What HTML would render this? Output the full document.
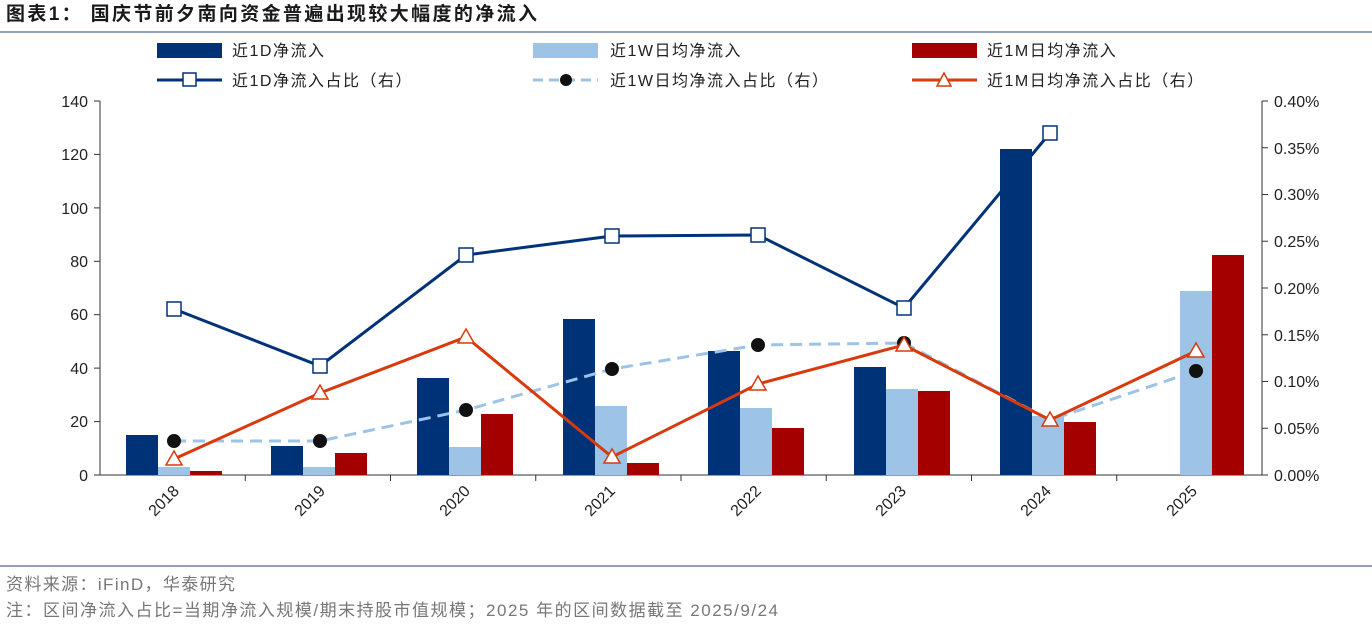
<!DOCTYPE html>
<html><head><meta charset="utf-8"><style>
body{margin:0;background:#fff;width:1372px;height:630px;overflow:hidden;font-family:"Liberation Sans","Noto Sans CJK SC",sans-serif}
</style></head><body>
<svg width="1372" height="630" xmlns="http://www.w3.org/2000/svg" font-family="Liberation Sans, Noto Sans CJK SC, sans-serif">
<text x="6" y="20" font-size="19" font-weight="bold" fill="#1a1a1a" textLength="531" lengthAdjust="spacing">图表1：  国庆节前夕南向资金普遍出现较大幅度的净流入</text>
<line x1="0" y1="32" x2="1372" y2="32" stroke="#8fa3bd" stroke-width="2"/>
<g font-size="16" fill="#222" letter-spacing="1.5">
<rect x="157" y="43" width="65" height="15" fill="#003278"/><text x="232" y="56">近1D净流入</text>
<rect x="533" y="43" width="65" height="15" fill="#9dc3e6"/><text x="610" y="56">近1W日均净流入</text>
<rect x="912" y="43" width="65" height="15" fill="#a50000"/><text x="987" y="56">近1M日均净流入</text>
<line x1="157" y1="80" x2="222" y2="80" stroke="#003278" stroke-width="3"/><rect x="183" y="73" width="13" height="13" fill="#fff" stroke="#003278" stroke-width="1.5"/><text x="232" y="86">近1D净流入占比（右）</text>
<line x1="533" y1="80" x2="598" y2="80" stroke="#9dc3e6" stroke-width="3" stroke-dasharray="10,6"/><circle cx="566" cy="80" r="6" fill="#111"/><text x="610" y="86">近1W日均净流入占比（右）</text>
<line x1="912" y1="80" x2="977" y2="80" stroke="#d83a0c" stroke-width="3"/><polygon points="944,73 951,86 937,86" fill="#fff" stroke="#d83a0c" stroke-width="1.5"/><text x="987" y="86">近1M日均净流入占比（右）</text>
</g>
<g stroke="#333" stroke-width="1">
<line x1="100" y1="101" x2="100" y2="475"/><line x1="1262" y1="101" x2="1262" y2="475"/>
<line x1="100" y1="475" x2="1262" y2="475"/>
<line x1="94" y1="101" x2="100" y2="101"/><line x1="94" y1="154.4" x2="100" y2="154.4"/><line x1="94" y1="207.9" x2="100" y2="207.9"/><line x1="94" y1="261.3" x2="100" y2="261.3"/><line x1="94" y1="314.7" x2="100" y2="314.7"/><line x1="94" y1="368.1" x2="100" y2="368.1"/><line x1="94" y1="421.6" x2="100" y2="421.6"/><line x1="94" y1="475" x2="100" y2="475"/>
<line x1="1262" y1="101" x2="1268" y2="101"/><line x1="1262" y1="147.75" x2="1268" y2="147.75"/><line x1="1262" y1="194.5" x2="1268" y2="194.5"/><line x1="1262" y1="241.25" x2="1268" y2="241.25"/><line x1="1262" y1="288" x2="1268" y2="288"/><line x1="1262" y1="334.75" x2="1268" y2="334.75"/><line x1="1262" y1="381.5" x2="1268" y2="381.5"/><line x1="1262" y1="428.25" x2="1268" y2="428.25"/><line x1="1262" y1="475" x2="1268" y2="475"/>
<line x1="245.25" y1="475" x2="245.25" y2="481"/><line x1="390.5" y1="475" x2="390.5" y2="481"/><line x1="535.75" y1="475" x2="535.75" y2="481"/><line x1="681" y1="475" x2="681" y2="481"/><line x1="826.25" y1="475" x2="826.25" y2="481"/><line x1="971.5" y1="475" x2="971.5" y2="481"/><line x1="1116.75" y1="475" x2="1116.75" y2="481"/>
</g>
<g font-size="16" fill="#222" text-anchor="end">
<text x="88" y="107">140</text><text x="88" y="160">120</text><text x="88" y="214">100</text><text x="88" y="267">80</text><text x="88" y="320">60</text><text x="88" y="374">40</text><text x="88" y="427">20</text><text x="88" y="481">0</text>
</g>
<g font-size="16" fill="#222">
<text x="1274" y="107">0.40%</text><text x="1274" y="154">0.35%</text><text x="1274" y="200">0.30%</text><text x="1274" y="247">0.25%</text><text x="1274" y="294">0.20%</text><text x="1274" y="341">0.15%</text><text x="1274" y="387">0.10%</text><text x="1274" y="434">0.05%</text><text x="1274" y="481">0.00%</text>
</g>
<g font-size="16" fill="#222" text-anchor="end">
<text transform="translate(180,492) rotate(-45)">2018</text><text transform="translate(326,492) rotate(-45)">2019</text><text transform="translate(471,492) rotate(-45)">2020</text><text transform="translate(616,492) rotate(-45)">2021</text><text transform="translate(762,492) rotate(-45)">2022</text><text transform="translate(907,492) rotate(-45)">2023</text><text transform="translate(1052,492) rotate(-45)">2024</text><text transform="translate(1198,492) rotate(-45)">2025</text>
</g>
<g fill="#003278">
<rect x="126" y="435" width="32" height="40"/><rect x="271" y="446" width="32" height="29"/><rect x="417" y="378" width="32" height="97"/><rect x="563" y="319" width="32" height="156"/><rect x="708" y="351" width="32" height="124"/><rect x="854" y="367" width="32" height="108"/><rect x="1000" y="149" width="32" height="326"/>
</g>
<g fill="#9dc3e6">
<rect x="158" y="467" width="32" height="8"/><rect x="303" y="467" width="32" height="8"/><rect x="449" y="447" width="32" height="28"/><rect x="595" y="406" width="32" height="69"/><rect x="740" y="408" width="32" height="67"/><rect x="886" y="389" width="32" height="86"/><rect x="1032" y="416" width="32" height="59"/><rect x="1180" y="291" width="32" height="184"/>
</g>
<g fill="#a50000">
<rect x="190" y="471" width="32" height="4"/><rect x="335" y="453" width="32" height="22"/><rect x="481" y="414" width="32" height="61"/><rect x="627" y="463" width="32" height="12"/><rect x="772" y="428" width="32" height="47"/><rect x="918" y="391" width="32" height="84"/><rect x="1064" y="422" width="32" height="53"/><rect x="1212" y="255" width="32" height="220"/>
</g>
<polyline points="174,441 320,441 466,410 612,369 758,345 904,343 1050,420 1196,371" fill="none" stroke="#9dc3e6" stroke-width="3" stroke-dasharray="12,7"/>
<g fill="#111"><circle cx="174" cy="441" r="7"/><circle cx="320" cy="441" r="7"/><circle cx="466" cy="410" r="7"/><circle cx="612" cy="369" r="7"/><circle cx="758" cy="345" r="7"/><circle cx="904" cy="343" r="7"/><circle cx="1196" cy="371" r="7"/></g>
<polyline points="174,309 320,366 466,255 612,236 758,235 904,308 1050,133" fill="none" stroke="#003278" stroke-width="3"/>
<g fill="#fff" stroke="#003278" stroke-width="1.5"><rect x="167" y="302" width="14" height="14"/><rect x="313" y="359" width="14" height="14"/><rect x="459" y="248" width="14" height="14"/><rect x="605" y="229" width="14" height="14"/><rect x="751" y="228" width="14" height="14"/><rect x="897" y="301" width="14" height="14"/><rect x="1043" y="126" width="14" height="14"/></g>
<polyline points="174,459 320,393 466,337 612,457 758,384 904,345 1050,420 1196,351" fill="none" stroke="#d83a0c" stroke-width="3"/>
<g fill="#fff" stroke="#d83a0c" stroke-width="1.5">
<polygon points="174,451 182,465 166,465"/><polygon points="320,385 328,399 312,399"/><polygon points="466,329 474,343 458,343"/><polygon points="612,449 620,463 604,463"/><polygon points="758,376 766,390 750,390"/><polygon points="904,337 912,351 896,351"/><polygon points="1050,412 1058,426 1042,426"/><polygon points="1196,343 1204,357 1188,357"/>
</g>
<line x1="0" y1="566" x2="1372" y2="566" stroke="#8fa3bd" stroke-width="2"/>
<text x="6" y="590" font-size="17" fill="#777" textLength="229" lengthAdjust="spacing">资料来源：iFinD，华泰研究</text>
<text x="6" y="616" font-size="17" fill="#777" textLength="772" lengthAdjust="spacing">注：区间净流入占比=当期净流入规模/期末持股市值规模；2025 年的区间数据截至 2025/9/24</text>
</svg>
</body></html>
